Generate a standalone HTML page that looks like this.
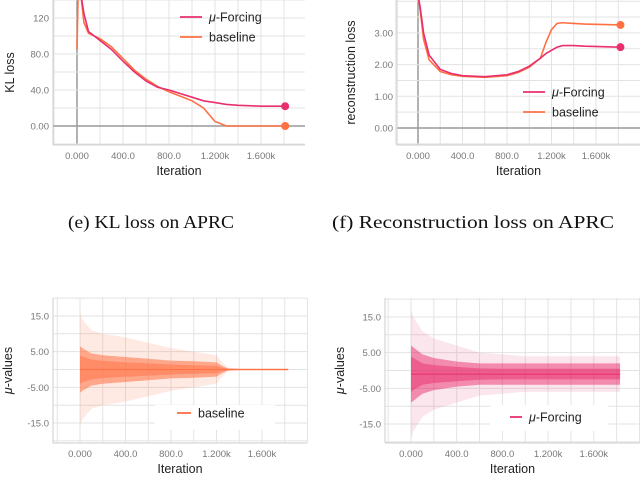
<!DOCTYPE html>
<html><head><meta charset="utf-8"><style>
body{margin:0;background:#fff;width:640px;height:480px;overflow:hidden}
svg{display:block}
.tk{font:9.5px "Liberation Sans",sans-serif;fill:#777}
.at{font:12.5px "Liberation Sans",sans-serif;fill:#222}
.cap{font:18px "Liberation Serif",serif;fill:#111}
.lg{font:12.5px "Liberation Sans",sans-serif;fill:#222}
</style></head><body>
<svg id="s" width="640" height="480">
<text class="cap" x="68" y="228" textLength="166" lengthAdjust="spacingAndGlyphs">(e)  KL loss on APRC</text>
<text class="cap" x="332" y="228" textLength="282" lengthAdjust="spacingAndGlyphs">(f)  Reconstruction loss on APRC</text>
</svg>
<script>
// ---- data ----
const xTickVals=[0,400,800,1200,1600];
const xTickLabels=["0.000","400.0","800.0","1.200k","1.600k"];
const klIter=[0,10,30,60,100,200,300,400,500,600,700,800,900,1000,1100,1200,1300,1400,1600,1810];
const klMu=[150,150,150,125,105,95,85,72,60,50,43,40,36,32,28,26,24,23,22,22];
const klBase=[85,150,150,115,103,97,88,75,62,52,44,38,33,28,20,5,0,0,0,0];
const klTicks=[0,40,80,120];const klTickLabels=["0.00","40.0","80.0","120"];
const recIter=[0,20,50,100,200,300,400,600,800,900,1000,1100,1150,1200,1250,1300,1400,1500,1820];
const recMu=[4.2,3.8,3.0,2.3,1.85,1.72,1.65,1.62,1.68,1.78,1.95,2.2,2.35,2.45,2.55,2.6,2.6,2.58,2.55];
const recBase=[4.2,3.7,2.8,2.15,1.78,1.68,1.63,1.6,1.65,1.75,1.92,2.2,2.7,3.1,3.3,3.32,3.3,3.28,3.25];
const recTicks=[0,1,2,3];const recTickLabels=["0.00","1.00","2.00","3.00"];
const muTicks=[-15,-5,5,15];const muTickLabels=["-15.0","-5.00","5.00","15.0"];
const hIter=[0,20,100,200,400,600,800,1000,1200,1250,1300,1400,1830];
const baseOuter=[16,14,11,10,9,7.5,6,5,4,2,0.5,0.3,0.3];
const baseMid=[6.5,6,4.5,4,3.5,3,2.5,2.3,2,1,0.3,0.2,0.2];
const baseInner=[4,3.6,2.8,2.4,2,1.7,1.4,1.2,1,0.5,0.2,0.1,0.1];
const muIter=[0,20,100,200,400,600,800,1000,1200,1400,1600,1830];
const muOuter=[18,16,12,10,8,6,5.5,5,5,5,5,5];
const muMid=[8,7.5,5.5,4.5,3.5,3,3,3,3,3,3,3];
const muInner=[5,4.5,3,2.5,2,1.6,1.5,1.5,1.5,1.5,1.5,1.5];
const muCenter=-1;
// ---- helpers ----
const NS="http://www.w3.org/2000/svg",S=document.getElementById('s');
function mk(t,a,p){const e=document.createElementNS(NS,t);for(const k in a)e.setAttribute(k,a[k]);(p||S).appendChild(e);return e;}
function chart(o){
 const g=mk('g',{});
 
 
 const X=v=>o.x0+(v)*o.kx, Y=v=>o.y0-v*o.ky;
 for(let v=-200;X(v)<=o.r+1;v+=200){const l=mk('line',{x1:X(v),x2:X(v),y1:o.t,y2:o.b,stroke:v==0&&o.zeroAxis?'#999':'#e3e3e3','stroke-width':v==0&&o.zeroAxis?1.5:1},g);}
 for(let v=o.gMin;Y(v)>=o.t-1;v+=o.gStep){if(Y(v)>o.b)continue;const z=Math.abs(v)<1e-9&&o.zeroAxis;const l=mk('line',{x1:o.l,x2:o.r,y1:Y(v),y2:Y(v),stroke:z?'#999':'#e3e3e3','stroke-width':z?1.5:1},g);}
 mk('line',{x1:o.l,x2:o.r,y1:o.b,y2:o.b,stroke:'#ccc'},g);
 mk('line',{x1:o.l,x2:o.l,y1:o.t,y2:o.b,stroke:'#ccc'},g);
 xTickVals.forEach((v,i)=>{const t=mk('text',{x:X(v),y:o.b+14,'text-anchor':'middle',class:'tk'},g);t.textContent=xTickLabels[i];});
 o.yt.forEach((v,i)=>{const t=mk('text',{x:o.l-4,y:Y(v)+3.5,'text-anchor':'end',class:'tk'},g);t.textContent=o.ytl[i];});
 const xt=mk('text',{x:(o.l+o.r)/2+ (o.xtOff||0),y:o.b+30,'text-anchor':'middle',class:'at'},g);xt.textContent='Iteration';
 
 const yt=mk('text',{x:0,y:0,'text-anchor':'middle',class:'at',transform:`translate(${o.ytx},${(o.t+o.b)/2}) rotate(-90)`},g);
 if(o.mu){yt.innerHTML='<tspan font-style="italic">μ</tspan>-values';}else yt.textContent=o.ytitle;
 
 const cp=mk('clipPath',{id:o.name+'c'},g);mk('rect',{x:o.l,y:o.t,width:o.r-o.l,height:o.b-o.t},cp);
 const pg=mk('g',{'clip-path':`url(#${o.name}c)`},g);
 return {g,pg,X,Y};
}
function line(c,xs,ys,col,name){const p=mk('polyline',{points:xs.map((x,i)=>c.X(x)+','+c.Y(ys[i])).join(' '),fill:'none',stroke:col,'stroke-width':1.6},c.pg);
 
 const d=mk('circle',{cx:c.X(xs[xs.length-1]),cy:c.Y(ys[ys.length-1]),r:4,fill:col},c.g);}
function band(c,xs,hw,ctr,col,op,name){const up=xs.map((x,i)=>c.X(x)+','+c.Y(ctr+hw[i]));const dn=xs.map((x,i)=>c.X(x)+','+c.Y(ctr-hw[i])).reverse();
 const p=mk('polygon',{points:up.concat(dn).join(' '),fill:col,'fill-opacity':op},c.pg);}
function legend(c,x,y,items,box){const g=mk('g',{},c.g);
 if(box)mk('rect',{x:box[0],y:box[1],width:box[2],height:box[3],fill:'#fff'},g);
 items.forEach((it,i)=>{const e=mk('g',{},g);
  mk('line',{x1:x,x2:x+it.w,y1:y+i*20,y2:y+i*20,stroke:it.c,'stroke-width':1.8},e);
  const t=mk('text',{x:x+it.w+7,y:y+i*20+4.5,class:'lg'},e);t.innerHTML=it.t;});}
const PINK='#e8306e',OR='#ff7043';
const kl=chart({name:'kl-loss-chart',l:53,r:305,t:0,b:145,x0:77,kx:46/400,y0:126,ky:0.9,gMin:-20,gStep:20,zeroAxis:true,yt:klTicks,ytl:klTickLabels,ytitle:'KL loss',ytx:14});
line(kl,klIter,klBase,OR,'baseline-line');line(kl,klIter,klMu,PINK,'mu-forcing-line');
legend(kl,180,17,[{c:PINK,t:'<tspan font-style="italic">μ</tspan>-Forcing',w:22},{c:OR,t:'baseline',w:22}]);
const rc=chart({name:'reconstruction-loss-chart',l:397,r:640,t:0,b:145,x0:418,kx:44.5/400,y0:128,ky:31.7,gMin:-0.5,gStep:0.5,zeroAxis:true,yt:recTicks,ytl:recTickLabels,ytitle:'reconstruction loss',ytx:355});
line(rc,recIter,recBase,OR,'baseline-line');line(rc,recIter,recMu,PINK,'mu-forcing-line');
legend(rc,523,92,[{c:PINK,t:'<tspan font-style="italic">μ</tspan>-Forcing',w:22},{c:OR,t:'baseline',w:22}]);
const mb=chart({name:'mu-values-baseline-chart',l:53,r:307,t:298,b:443,x0:80,kx:45.5/400,y0:369.5,ky:3.57,gMin:-20,gStep:5,yt:muTicks,ytl:muTickLabels,ytx:12,mu:true});
band(mb,hIter,baseOuter,0,OR,0.15,'outer-band');band(mb,hIter,baseMid,0,OR,0.55,'mid-band');band(mb,hIter,baseInner,0,OR,0.5,'inner-band');
mk('line',{x1:mb.X(0),x2:mb.X(1830),y1:mb.Y(0),y2:mb.Y(0),stroke:OR,'stroke-width':1},mb.pg);
legend(mb,177,413,[{c:OR,t:'baseline',w:14}],[155,405,120,25]);
const mf=chart({name:'mu-values-forcing-chart',l:385,r:640,t:298,b:443,x0:411,kx:45.7/400,y0:370.5,ky:3.57,gMin:-20,gStep:5,yt:muTicks,ytl:muTickLabels,ytx:344,mu:true});
band(mf,muIter,muOuter,muCenter,PINK,0.12,'outer-band');band(mf,muIter,muMid,muCenter,PINK,0.5,'mid-band');band(mf,muIter,muInner,muCenter,PINK,0.5,'inner-band');
mk('line',{x1:mf.X(0),x2:mf.X(1830),y1:mf.Y(muCenter),y2:mf.Y(muCenter),stroke:PINK,'stroke-width':1},mf.pg);
legend(mf,510,417,[{c:PINK,t:'<tspan font-style="italic">μ</tspan>-Forcing',w:12}],[490,405,118,26]);
</script>
</body></html>
